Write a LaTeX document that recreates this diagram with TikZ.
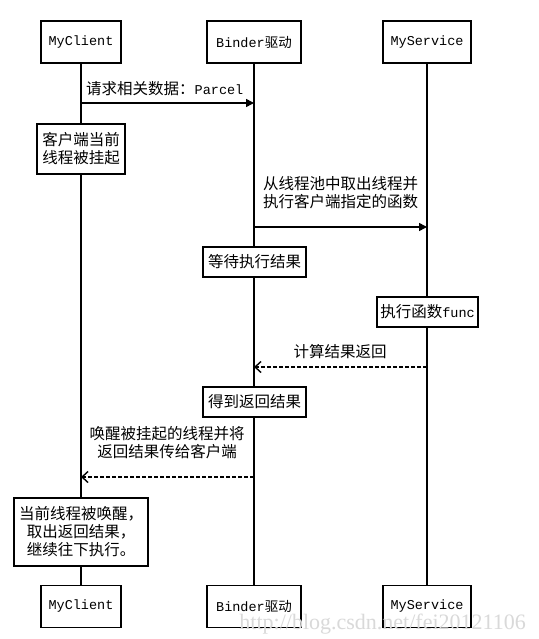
\documentclass[tikz,border=0pt]{standalone}
\usepackage{fontspec}
\setmainfont{Liberation Mono}
\newfontfamily\cjk{Noto Sans CJK SC}
\newfontfamily\wmfont{Liberation Serif}
\usetikzlibrary{arrows.meta}
\newcommand{\zh}[1]{{\cjk\fontsize{15.5}{18}\selectfont #1}}
\begin{document}
\begin{tikzpicture}[x=1pt,y=-1pt,
  box/.style={draw,line width=1.6pt,fill=white,inner sep=0pt,align=center},
  life/.style={line width=1.4pt},
  msg/.style={line width=1.6pt,-{Triangle[length=8pt,width=8pt]}},
  ret/.style={line width=1.6pt,dash pattern=on 4pt off 2pt,-{Straight Barb[length=6pt,width=11pt,line width=1.4pt]}},
  cj/.style={font=\cjk\fontsize{15.5}{18}\selectfont,align=center},
  lat/.style={font=\fontsize{13.5}{18}\selectfont},
  head/.style={box,lat,minimum height=42pt}]
\useasboundingbox[fill=white] (0,0) rectangle (538,639);
% heads
\node[head,minimum width=80pt] (cTop) at (81,42) {MyClient};
\node[head,minimum width=94pt] (bTop) at (254,42) {Binder{\cjk 驱动}};
\node[head,minimum width=88pt] (sTop) at (427,42) {MyService};
\node[head,minimum width=80pt] (cBot) at (81,606.5) {MyClient};
\node[head,minimum width=94pt] (bBot) at (254,606.5) {Binder{\cjk 驱动}};
\node[head,minimum width=88pt] (sBot) at (427,606.5) {MyService};
% lifelines
\draw[life] (cTop) -- (cBot);
\draw[life] (bTop) -- (bBot);
\draw[life] (sTop) -- (sBot);
% message 1
\coordinate (m1a) at (81,103);
\coordinate (m1b) at (254,103);
\draw[msg] (m1a) -- (m1b);
\node[lat,anchor=west,inner sep=0pt] (l1) at (86,89) {\zh{请求相关数据：}Parcel};
\node[box,cj,minimum width=88pt,minimum height=50pt] (susp) at (81,149) {客户端当前\\线程被挂起};
% message 2
\coordinate (m2a) at (254,227);
\coordinate (m2b) at (427,227);
\draw[msg] (m2a) -- (m2b);
\node[cj,inner sep=0pt] (l2) at (340.5,193) {从线程池中取出线程并\\执行客户端指定的函数};
\node[box,cj,minimum width=103pt,minimum height=30pt] (wait) at (254.5,262) {等待执行结果};
\node[box,lat,minimum width=101pt,minimum height=30pt] (func) at (427.5,312) {\zh{执行函数}func};
% message 3
\coordinate (m3a) at (427,367);
\coordinate (m3b) at (254,367);
\draw[ret] (m3a) -- (m3b);
\node[cj,inner sep=0pt] (l3) at (340,352) {计算结果返回};
\node[box,cj,minimum width=103pt,minimum height=30pt] (got) at (254.5,402) {得到返回结果};
% message 4
\coordinate (m4a) at (254,477);
\coordinate (m4b) at (81,477);
\draw[ret] (m4a) -- (m4b);
\node[cj,inner sep=0pt] (l4) at (167,443) {唤醒被挂起的线程并将\\返回结果传给客户端};
\node[box,cj,minimum width=134pt,minimum height=68pt] (woke) at (81,532) {当前线程被唤醒，\\取出返回结果，\\继续往下执行。};
% watermark
\node[font=\wmfont\fontsize{22}{22}\selectfont,text=gray!30,anchor=east,inner sep=0pt] (wm) at (526,624) {http://blog.csdn.net/fei20121106};
\end{tikzpicture}
\end{document}
